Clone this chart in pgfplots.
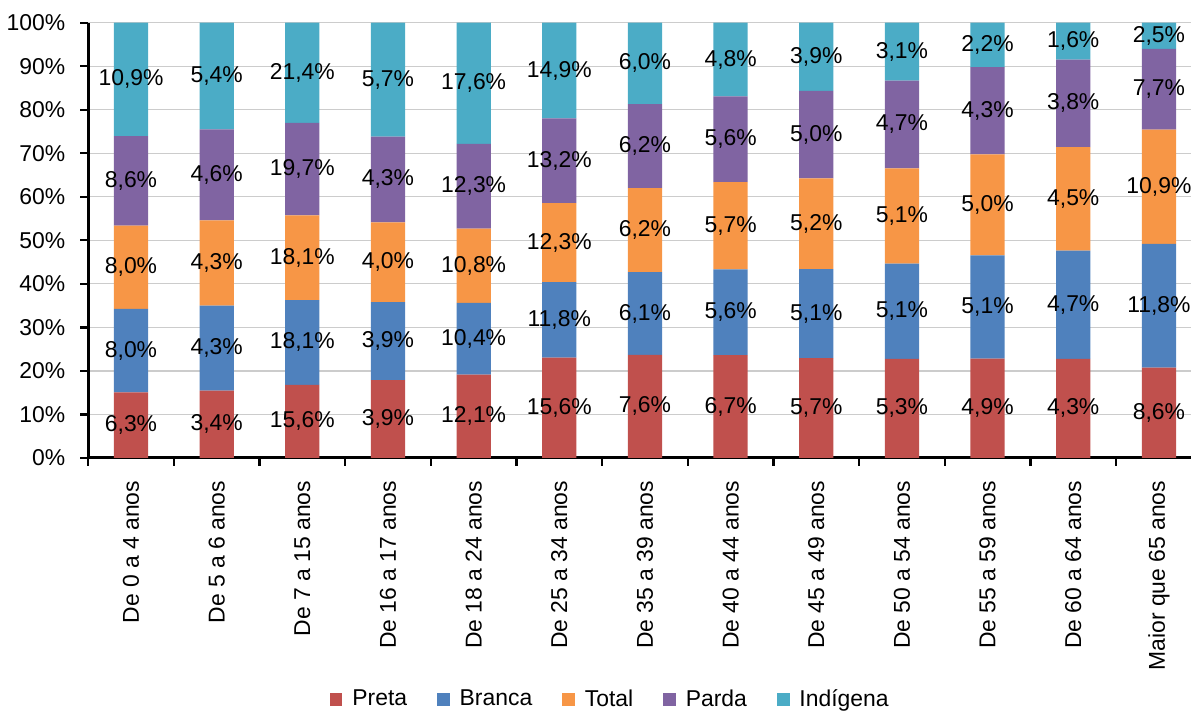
\documentclass[border=0pt]{standalone}
\usepackage{fontspec}
\setmainfont{Liberation Sans}
\usepackage{pgfplots}
\usepackage{pgfplotstable}
\pgfplotsset{compat=1.18}

\definecolor{cPreta}{HTML}{C0504D}
\definecolor{cBranca}{HTML}{4F81BD}
\definecolor{cTotal}{HTML}{F79646}
\definecolor{cParda}{HTML}{8064A2}
\definecolor{cIndig}{HTML}{4BACC6}

% h* = altura na barra 100% ; v* = valor do rótulo
\pgfplotstableread{
x  hP    vP   hB    vB   hT    vT   hD    vD   hI    vI
0  15.07 6,3  19.14 8,0  19.14 8,0  20.57 8,6  26.08 10,9
1  15.45 3,4  19.55 4,3  19.55 4,3  20.91 4,6  24.54 5,4
2  16.79 15,6 19.48 18,1 19.48 18,1 21.21 19,7 23.04 21,4
3  17.89 3,9  17.89 3,9  18.35 4,0  19.72 4,3  26.15 5,7
4  19.15 12,1 16.46 10,4 17.09 10,8 19.46 12,3 27.84 17,6
5  23.01 15,6 17.40 11,8 18.14 12,3 19.47 13,2 21.98 14,9
6  23.68 7,6  19.00 6,1  19.31 6,2  19.31 6,2  18.70 6,0
7  23.59 6,7  19.72 5,6  20.07 5,7  19.72 5,6  16.90 4,8
8  22.89 5,7  20.48 5,1  20.88 5,2  20.08 5,0  15.67 3,9
9  22.75 5,3  21.89 5,1  21.89 5,1  20.17 4,7  13.30 3,1
10 22.79 4,9  23.72 5,1  23.26 5,0  20.00 4,3  10.23 2,2
11 22.75 4,3  24.87 4,7  23.81 4,5  20.11 3,8  8.46  1,6
12 20.72 8,6  28.43 11,8 26.27 10,9 18.55 7,7  6.03  2,5
}\dados

\pgfplotsset{
  seg/.style={fill=#1, draw=none,
    legend image code/.code={\fill[#1] (0pt,-3.2pt) rectangle (6.4pt,3.2pt);}},
}

\begin{document}
\begin{tikzpicture}[font=\fontsize{11.5}{13}\selectfont]
\begin{axis}[
  ybar stacked,
  scale only axis,
  width=554pt, height=218.5pt,
  bar width=0.4,
  xmin=-0.5, xmax=12.38,
  ymin=0, ymax=100,
  ytick={0,10,...,100},
  yticklabel={\pgfmathprintnumber{\tick}\%},
  /pgf/number format/assume math mode=true,
  yticklabel shift=4pt,
  xtick={0,...,12},
  xticklabels={De 0 a 4 anos, De 5 a 6 anos, De 7 a 15 anos, De 16 a 17 anos,
    De 18 a 24 anos, De 25 a 34 anos, De 35 a 39 anos, De 40 a 44 anos,
    De 45 a 49 anos, De 50 a 54 anos, De 55 a 59 anos, De 60 a 64 anos,
    Maior que 65 anos},
  xticklabel style={rotate=90, anchor=east},
  xticklabel shift=4pt,
  minor xtick={-0.5,0.5,...,12.5},
  major x tick style={draw=none},
  minor x tick style={black, line width=1.2pt},
  ytick style={black, line width=1.2pt},
  tick align=outside,
  major tick length=4pt, minor tick length=4pt,
  axis x line*=bottom, axis y line*=left,
  axis line style={line width=1.5pt},
  ymajorgrids, grid style={black!20, line width=0.7pt},
  point meta=explicit symbolic,
  nodes near coords={\pgfplotspointmeta\%},
  every node near coord/.append style={anchor=center, text=black},
  legend columns=5,
  legend style={at={(0.474,-0.555)}, anchor=center, draw=none,
    /tikz/every odd column/.append style={column sep=3pt},
    /tikz/every even column/.append style={column sep=13pt}},
]
\addplot+[seg=cPreta]  table[x=x, y=hP, meta=vP] {\dados};
\addplot+[seg=cBranca] table[x=x, y=hB, meta=vB] {\dados};
\addplot+[seg=cTotal]  table[x=x, y=hT, meta=vT] {\dados};
\addplot+[seg=cParda]  table[x=x, y=hD, meta=vD] {\dados};
\addplot+[seg=cIndig]  table[x=x, y=hI, meta=vI] {\dados};
\legend{Preta, Branca, Total, Parda, Indígena}
\end{axis}
\path (current bounding box.north) ++(0,4pt);
\end{tikzpicture}
\end{document}
